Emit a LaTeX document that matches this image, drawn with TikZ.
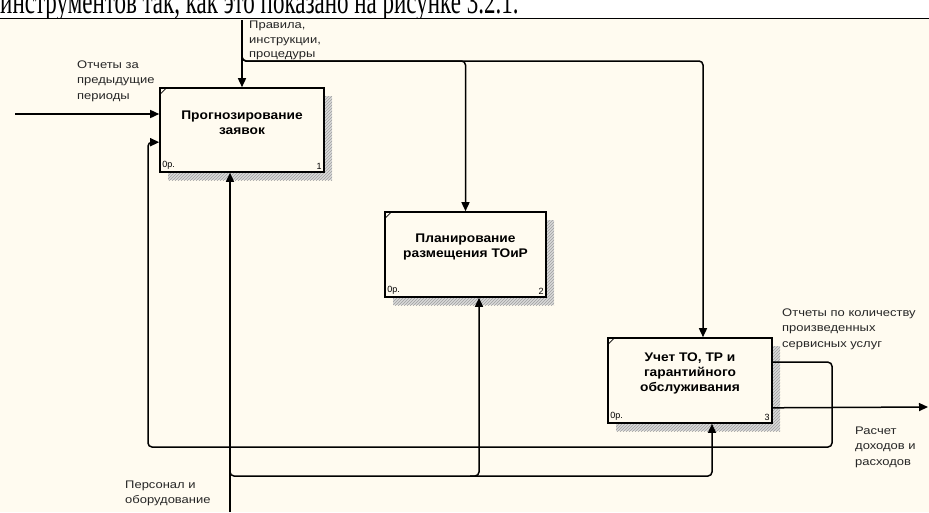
\documentclass[tikz,border=0pt]{standalone}
\usepackage{fontspec}
\setmainfont{Liberation Sans}
\newfontfamily\serifru{Liberation Serif}
\newfontfamily\labfont[FakeStretch=1.18]{Liberation Sans}
\newfontfamily\ttlfont[FakeStretch=1.1]{Liberation Sans}
\usetikzlibrary{arrows.meta,patterns,calc}
\definecolor{bgc}{RGB}{255,251,240}
\begin{document}
\begin{tikzpicture}[x=1pt,y=-1pt,
  conn/.style={line width=1.5pt, rounded corners=4pt},
  arr/.style={conn, -{Triangle[length=9pt,width=8pt]}},
  fbox/.style={draw, line width=1.6pt, fill=bgc, inner sep=0pt},
  lab/.style={font=\labfont\fontsize{11}{15.5}\selectfont, align=left, inner sep=0pt, anchor=north west, text=black!85},
  ttl/.style={font=\ttlfont\bfseries\fontsize{12.5}{15}\selectfont, align=center, inner sep=0pt},
  num/.style={font=\fontsize{9}{10}\selectfont, inner sep=0pt},
  shadowfill/.style={fill=gray!30, postaction={pattern=north east lines, pattern color=gray!75}},
  cornermark/.style={line width=0.8pt}
]
\useasboundingbox (0,0) rectangle (929,512);
\fill[white] (0,0) rectangle (929,19);
\fill[bgc] (0,19) rectangle (929,512);
\begin{scope}
\clip (0,0) rectangle (929,17.5);
\node[anchor=base west, inner sep=0pt, font=\serifru\fontsize{23}{28}\selectfont] (toptext) at (0,13.5) {\scalebox{1}[1.55]{инструментов так, как это показано на рисунке 3.2.1.}};
\end{scope}
\draw[line width=1.4pt] (0,18.3) -- (929,18.3);

% shadows
\fill[shadowfill] (168,96) rectangle (332,180);
\fill[shadowfill] (393,220) rectangle (554,305);
\fill[shadowfill] (616,346) rectangle (780,431);

% boxes
\node[fbox, minimum width=164pt, minimum height=84pt] (b1) at (242,130) {};
\node[fbox, minimum width=161pt, minimum height=85pt] (b2) at (465.5,254.5) {};
\node[fbox, minimum width=164pt, minimum height=85pt] (b3) at (690,380.5) {};

\node[ttl] (t1) at ($(b1.center)+(0,-7.5)$) {Прогнозирование\\заявок};
\node[ttl] (t2) at ($(b2.center)+(0,-8)$) {Планирование\\размещения ТОиР};
\node[ttl] (t3) at ($(b3.center)+(0,-7.5)$) {Учет ТО, ТР и\\гарантийного\\обслуживания};

\foreach \b/\n in {b1/1,b2/2,b3/3}{
  \node[num, anchor=south west] (\b ca) at ($(\b.south west)+(3,-3)$) {0р.};
  \node[num, anchor=south east] (\b cb) at ($(\b.south east)+(-3,-3)$) {\n};
  \draw[cornermark] ($(\b.north west)+(1,7)$) -- ($(\b.north west)+(7,1)$);
}

% input 1
\coordinate (in1s) at (15,114);
\draw[arr] (in1s) -- (in1s -| b1.west);

% control
\coordinate (ctop) at (242,20);
\draw[arr] (ctop) -- (b1.north);
\coordinate (cj) at (242,54);
\coordinate (cbar) at (242,61);
\coordinate (c3) at ($(b3.north)+(13,0)$);
\draw[arr] (cj) -- (cbar) -- (cbar -| b2.north) -- (b2.north);
\draw[arr] (cj) -- (cbar) -- (cbar -| c3) -- (c3);

% feedback
\coordinate (o1) at ($(b3.north east)+(0,25)$);
\coordinate (i2) at ($(b1.north west)+(0,55)$);
\coordinate (fbR) at (832,447);
\coordinate (fbL) at (148,447);
\draw[arr] (o1) -- (o1 -| fbR) -- (fbR) -- (fbL) -- (fbL |- i2) -- (i2);

% output 2
\coordinate (o2) at ($(b3.south east)+(0,-16)$);
\coordinate (o2e) at (928,407);
\draw[arr] (o2) -- (o2e);

% mechanism
\coordinate (mbot) at (230,512);
\coordinate (m1) at ($(b1.south)+(-12,0)$);
\draw[arr] (mbot) -- (m1);
\coordinate (mj) at (230,470);
\coordinate (mbar) at (230,476);
\coordinate (m3) at ($(b3.south)+(22,0)$);
\draw[arr] (mj) -- (mbar) -- (mbar -| m3) -- (m3);
\coordinate (m2) at ($(b2.south)+(13.5,0)$);
\coordinate (m2j) at (470,476);
\draw[arr] (m2j) -- (m2j -| m2) -- (m2);

% labels
\node[lab, font=\labfont\fontsize{11}{14.5}\selectfont] (lctl) at (249,21) {Правила,\\инструкции,\\процедуры};
\node[lab] (lin) at (77,60.5) {Отчеты за\\предыдущие\\периоды};
\node[lab] (lo1) at (782,308.5) {Отчеты по количеству\\произведенных\\сервисных услуг};
\node[lab] (lo2) at (855,426.5) {Расчет\\доходов и\\расходов};
\node[lab] (lm) at (125,480.5) {Персонал и\\оборудование};
\end{tikzpicture}
\end{document}
